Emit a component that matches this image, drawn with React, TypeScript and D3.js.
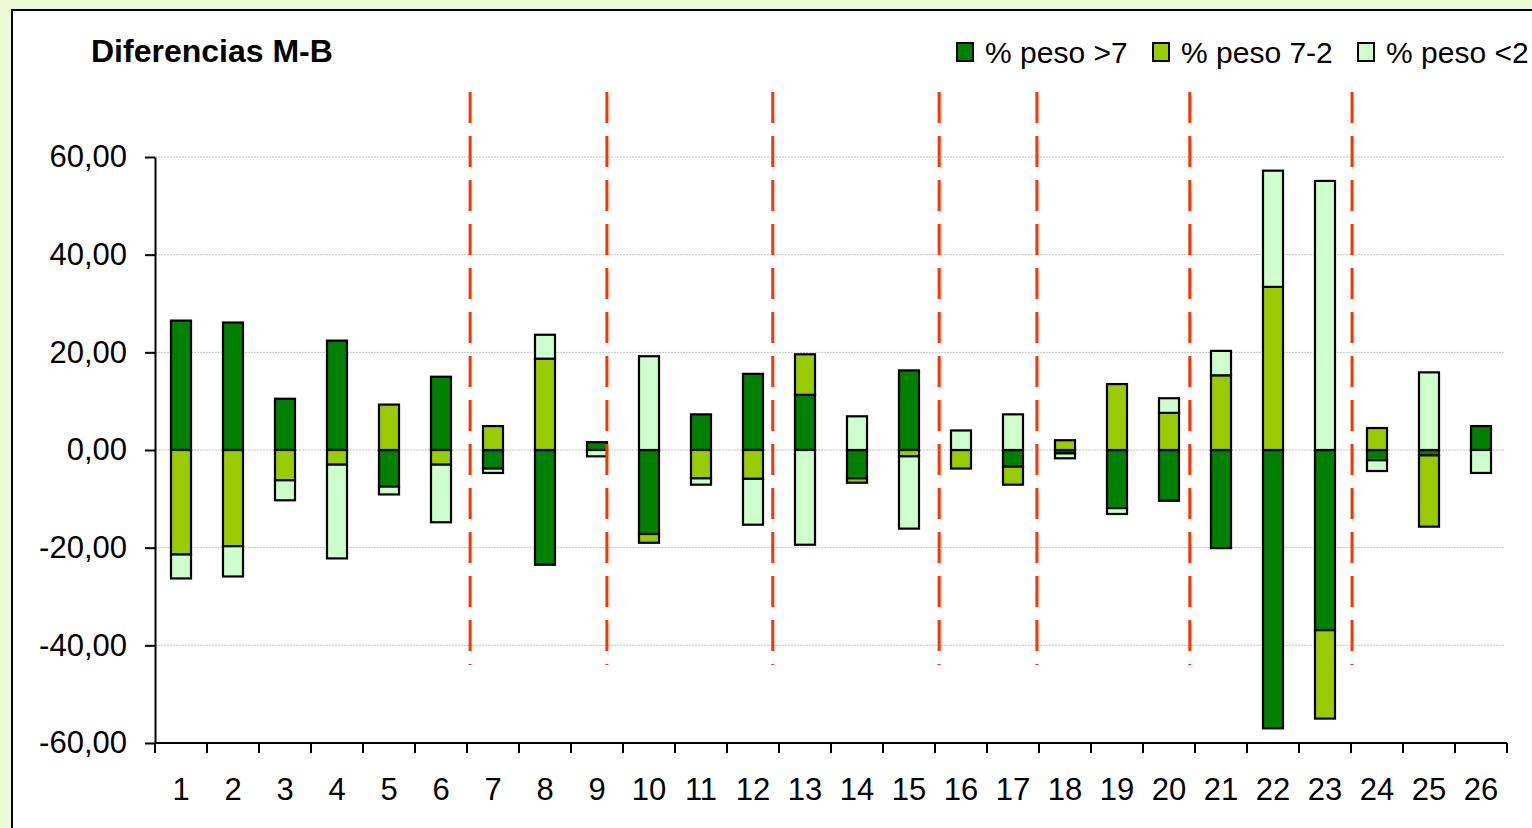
import React, { useEffect, useRef } from 'react'
import * as d3 from 'd3'

// categorias del eje X
const categorias = ['1', '2', '3', '4', '5', '6', '7', '8', '9', '10', '11', '12', '13',
    '14', '15', '16', '17', '18', '19', '20', '21', '22', '23', '24', '25', '26']

// diferencias M-B por serie
const pesoMayor7 = [26.5, 26.1, 10.5, 22.4, -7.5, 15.0, -3.8, -23.5, 1.6, -17.2, 7.3, 15.6, 11.3,
    -5.8, 16.3, 0, -3.4, -0.7, -11.9, -10.4, -20.1, -57.0, -36.9, -2.1, -1.1, 4.9]
const peso7a2 = [-21.4, -19.7, -6.2, -3.0, 9.3, -3.0, 4.9, 18.7, 0, -1.8, -5.8, -5.9, 8.3,
    -0.9, -1.3, -3.8, -3.7, 2.0, 13.5, 7.6, 15.3, 33.4, -18.1, 4.5, -14.6, 0]
const pesoMenor2 = [-4.9, -6.2, -4.1, -19.2, -1.6, -11.8, -0.9, 4.9, -1.3, 19.2, -1.3, -9.4, -19.4,
    6.9, -14.8, 4.0, 7.3, -1.0, -1.2, 3.0, 5.0, 23.8, 55.1, -2.2, 15.9, -4.7]

const series = ['% peso >7', '% peso 7-2', '% peso <2']
const colores = ['#008000', '#99cc00', '#ccffcc']
const yTicks = [-60, -40, -20, 0, 20, 40, 60]
// separadores rojos, en unidades de categoria (0 = borde izquierdo)
const separadores = [6.06, 8.69, 11.88, 15.08, 16.96, 19.9, 23.02]

const FONT = '"Liberation Sans", Arial, sans-serif'

export default function App() {
    const ref = useRef<SVGSVGElement>(null)

    useEffect(() => {
        const svg = d3.select(ref.current)
        svg.selectAll('*').remove()

        const left = 155, right = 1507, top = 157, bottom = 743

        svg.append('rect').attr('width', 1532).attr('height', 828).attr('fill', '#eef9d8')
        svg.append('rect')
            .attr('x', 12).attr('y', 10).attr('width', 1540).attr('height', 840)
            .attr('fill', '#ffffff').attr('stroke', '#000').attr('stroke-width', 2)

        const x = d3.scaleBand().domain(categorias).range([left, right])
        const xi = d3.scaleLinear().domain([0, categorias.length]).range([left, right])
        const y = d3.scaleLinear().domain([-60, 60]).range([bottom, top])

        // rejilla
        svg.append('g').selectAll('line').data(yTicks).enter().append('line')
            .attr('x1', left).attr('x2', right - 2)
            .attr('y1', d => y(d)).attr('y2', d => y(d))
            .attr('stroke', '#c4c4c4').attr('stroke-width', 1).attr('stroke-dasharray', '2,1')

        // barras apiladas
        const filas = categorias.map((c, i) => ({
            cat: c, a: pesoMayor7[i], b: peso7a2[i], c2: pesoMenor2[i]
        }))
        const stack = d3.stack<any>().keys(['a', 'b', 'c2']).offset(d3.stackOffsetDiverging)
        const capas = stack(filas)
        const bw = x.bandwidth() * 0.385

        svg.append('g').selectAll('g').data(capas).enter().append('g')
            .attr('fill', (d, i) => colores[i])
            .selectAll('rect').data(d => d.filter(p => p[1] !== p[0])).enter().append('rect')
            .attr('x', d => (x(d.data.cat) as number) + (x.bandwidth() - bw) / 2)
            .attr('width', bw)
            .attr('y', d => y(Math.max(d[0], d[1])))
            .attr('height', d => Math.abs(y(d[0]) - y(d[1])))
            .attr('stroke', '#000').attr('stroke-width', 2.2)

        // separadores
        svg.append('g').selectAll('line').data(separadores).enter().append('line')
            .attr('x1', d => xi(d)).attr('x2', d => xi(d))
            .attr('y1', 92).attr('y2', 665)
            .attr('stroke', '#ff3300').attr('stroke-width', 3).attr('stroke-dasharray', '31,13')

        // eje Y
        const yAxis = d3.axisLeft(y).tickValues(yTicks).tickSize(10).tickSizeOuter(0).tickPadding(18)
            .tickFormat(d => (d as number).toFixed(2).replace('.', ','))
        const gy = svg.append('g').attr('transform', `translate(${left},0)`).call(yAxis)
        gy.select('.domain').attr('stroke-width', 2)
        gy.selectAll('line').attr('stroke-width', 2)
        gy.selectAll('text').attr('font-family', FONT).attr('font-size', 31).attr('fill', '#000')

        // eje X
        const gx = svg.append('g')
        gx.append('line').attr('x1', left).attr('x2', right).attr('y1', bottom).attr('y2', bottom)
            .attr('stroke', '#000').attr('stroke-width', 2)
        gx.selectAll('line.tick').data(d3.range(categorias.length + 1)).enter().append('line')
            .attr('class', 'tick')
            .attr('x1', d => xi(d)).attr('x2', d => xi(d)).attr('y1', bottom).attr('y2', bottom + 10)
            .attr('stroke', '#000').attr('stroke-width', 2)
        gx.selectAll('text').data(categorias).enter().append('text')
            .attr('x', d => (x(d) as number) + x.bandwidth() / 2)
            .attr('y', 800)
            .attr('text-anchor', 'middle')
            .attr('font-family', FONT).attr('font-size', 31)
            .text(d => d)

        // titulo
        svg.append('text').attr('x', 91).attr('y', 62)
            .attr('font-family', FONT).attr('font-size', 32).attr('font-weight', 'bold')
            .text('Diferencias M-B')

        // leyenda
        const legX = [957, 1153, 1358]
        const leg = svg.append('g').selectAll('g').data(series).enter().append('g')
            .attr('transform', (d, i) => `translate(${legX[i]},0)`)
        leg.append('rect').attr('x', 0).attr('y', 43).attr('width', 16).attr('height', 18)
            .attr('fill', (d, i) => colores[i]).attr('stroke', '#000').attr('stroke-width', 2)
        leg.append('text').attr('x', 28).attr('y', 63)
            .attr('font-family', FONT).attr('font-size', 30)
            .text(d => d)
    }, [])

    return <svg ref={ref} width={1532} height={828}
        style={{ position: 'absolute', left: 0, top: 0, display: 'block' }} />
}
